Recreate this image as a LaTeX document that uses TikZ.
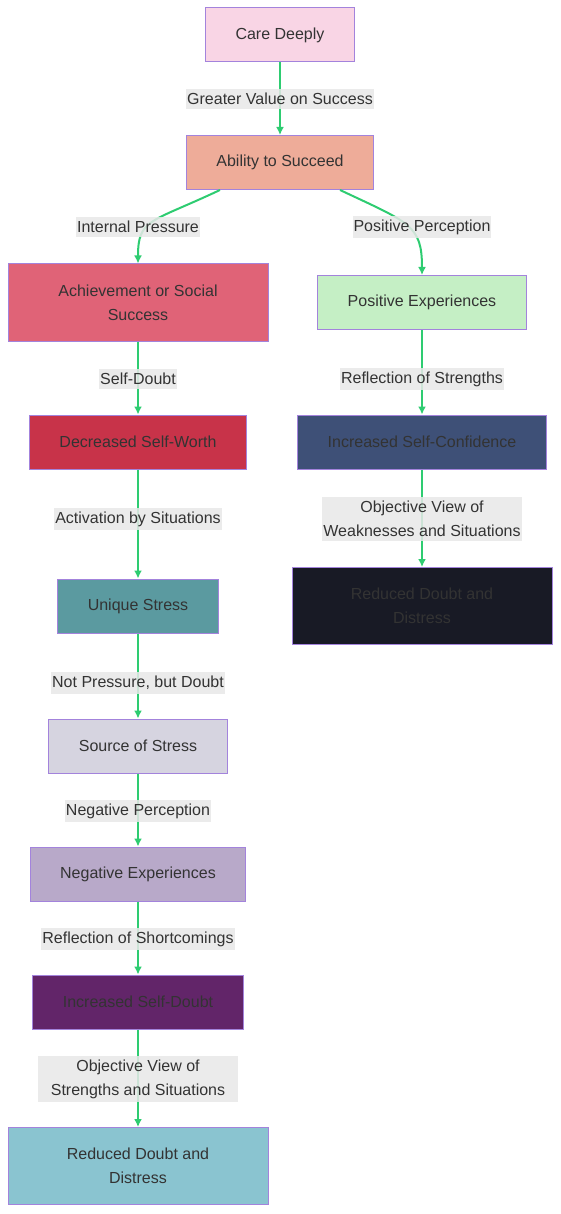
\documentclass[tikz,border=0pt]{standalone}
\usepackage{fontspec}
\setmainfont{Liberation Sans}
\usetikzlibrary{arrows.meta}

\definecolor{textgray}{HTML}{333333}
\definecolor{boxline}{HTML}{A383DC}
\definecolor{edgegreen}{HTML}{2ECC71}
\definecolor{lblgray}{HTML}{E8E8E8}
\definecolor{carepink}{HTML}{F9D5E5}
\definecolor{abilitysalmon}{HTML}{EEAC99}
\definecolor{achieverose}{HTML}{E06377}
\definecolor{worthred}{HTML}{C83349}
\definecolor{stressteal}{HTML}{5B9AA0}
\definecolor{sourcelilac}{HTML}{D6D4E0}
\definecolor{negmauve}{HTML}{B8A9C9}
\definecolor{doubtplum}{HTML}{622569}
\definecolor{reducedblue}{HTML}{8AC4D0}
\definecolor{posgreen}{HTML}{C5EFC5}
\definecolor{confnavy}{HTML}{3E5077}
\definecolor{nightblack}{HTML}{181A25}

\begin{document}
\begin{tikzpicture}[x=1pt, y=-1pt, every node/.style={font=\fontsize{16}{24}\selectfont, text=textgray}, >={Latex[length=8pt,width=8pt]},
	box/.style={draw=boxline, line width=1pt, inner xsep=30pt, minimum height=54pt, align=center},
	widebox/.style={box, minimum width=260pt, minimum height=77pt},
	edge/.style={->, draw=edgegreen, line width=2pt},
	lbl/.style={fill=lblgray, fill opacity=0.85, text opacity=1, inner xsep=1pt, inner ysep=4pt, align=center}]
	\useasboundingbox (0,0) rectangle (560,1214);
	% left column and top
	\node[box, fill=carepink] (care) at (280,35) {Care Deeply};
	\node[box, fill=abilitysalmon] (ability) at (280,162.5) {Ability to Succeed};
	\node[widebox, fill=achieverose] (achieve) at (138,302.5) {Achievement or Social\\Success};
	\node[box, fill=worthred] (worth) at (138,442) {Decreased Self-Worth};
	\node[box, fill=stressteal] (unique) at (138,606) {Unique Stress};
	\node[box, fill=sourcelilac] (source) at (138,746) {Source of Stress};
	\node[box, fill=negmauve] (negexp) at (138,874) {Negative Experiences};
	\node[box, fill=doubtplum] (selfdoubt) at (138,1002) {Increased Self-Doubt};
	\node[widebox, fill=reducedblue] (reducedL) at (138,1166) {Reduced Doubt and\\Distress};
	% right column
	\node[box, fill=posgreen] (posexp) at (422,302.5) {Positive Experiences};
	\node[box, fill=confnavy] (confid) at (422,442) {Increased Self-Confidence};
	\node[widebox, fill=nightblack] (reducedR) at (422,606) {Reduced Doubt and\\Distress};

	\draw[edge] (care) -- (ability);
	\draw[edge] ([xshift=-60pt]ability.south) .. controls +(-70,33) and +(0,-45) .. (achieve.north);
	\draw[edge] ([xshift=60pt]ability.south) .. controls +(70,33) and +(0,-50) .. (posexp.north);
	\draw[edge] (achieve) -- (worth);
	\draw[edge] (worth) -- (unique);
	\draw[edge] (unique) -- (source);
	\draw[edge] (source) -- (negexp);
	\draw[edge] (negexp) -- (selfdoubt);
	\draw[edge] (selfdoubt) -- (reducedL);
	\draw[edge] (posexp) -- (confid);
	\draw[edge] (confid) -- (reducedR);

	\node[lbl] (valueLbl) at (280,99) {Greater Value on Success};
	\node[lbl] (pressureLbl) at (138,227) {Internal Pressure};
	\node[lbl] (perceptLbl) at (422,227) {Positive Perception};
	\node[lbl] (doubtLbl) at (138,379) {Self-Doubt};
	\node[lbl] (strengthLbl) at (422,379) {Reflection of Strengths};
	\node[lbl] (activLbl) at (138,519) {Activation by Situations};
	\node[lbl, minimum width=200pt] (weakLbl) at (422,519) {Objective View of\\Weaknesses and Situations};
	\node[lbl] (notLbl) at (138,683) {Not Pressure, but Doubt};
	\node[lbl] (negLbl) at (138,811) {Negative Perception};
	\node[lbl] (shortLbl) at (138,939) {Reflection of Shortcomings};
	\node[lbl, minimum width=200pt] (objLbl) at (138,1079) {Objective View of\\Strengths and Situations};
\end{tikzpicture}
\end{document}
